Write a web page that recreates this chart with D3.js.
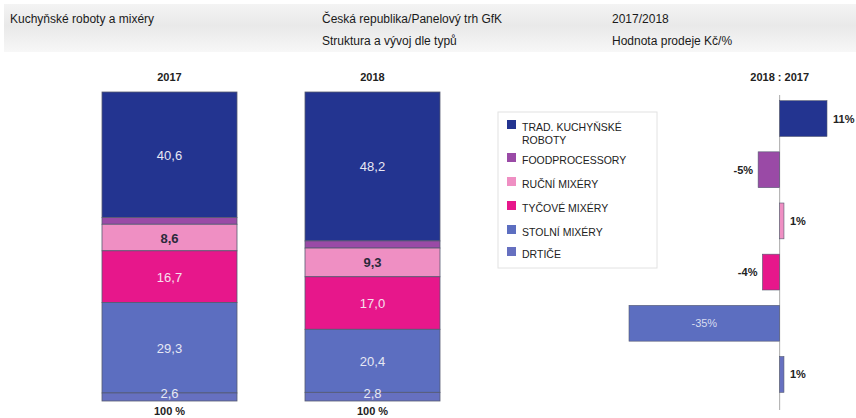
<!DOCTYPE html>
<html><head><meta charset="utf-8">
<script src="https://cdn.jsdelivr.net/npm/d3@7"></script>
<style>
body{margin:0;background:#fff;}
svg{font-family:"Liberation Sans",Arial,sans-serif;}
</style></head><body>
<svg id="c" width="856" height="418"></svg>
<script>
const categories = ["TRAD. KUCHYŇSKÉ ROBOTY","FOODPROCESSORY","RUČNÍ MIXÉRY","TYČOVÉ MIXÉRY","STOLNÍ MIXÉRY","DRTIČE"];
const legendLines = [["TRAD. KUCHYŇSKÉ","ROBOTY"],["FOODPROCESSORY"],["RUČNÍ MIXÉRY"],["TYČOVÉ MIXÉRY"],["STOLNÍ MIXÉRY"],["DRTIČE"]];
const years = ["2017","2018"];
const share2017 = [40.6, 2.2, 8.6, 16.7, 29.3, 2.6];
const share2018 = [48.2, 2.3, 9.3, 17.0, 20.4, 2.8];
const change = [11, -5, 1, -4, -35, 1];
const changeLabels = ["11%","-5%","1%","-4%","-35%","1%"];
const shareLabelIdx = [0,2,3,4,5];
const colors = ["#233490","#9a4aa6","#ef8fc3","#e7178b","#5c6ec0","#6670c0"];
const labelColors = ["#e8e8f4",null,"#2a2a3a","#f6e0ee","#e6e8f4","#e6e8f4"];

const svg = d3.select("#c");
// header band
const defs = svg.append("defs");
const g1 = defs.append("linearGradient").attr("id","hg").attr("x1",0).attr("y1",0).attr("x2",0).attr("y2",1);
g1.append("stop").attr("offset","0%").attr("stop-color","#f4f4f4");
g1.append("stop").attr("offset","45%").attr("stop-color","#e9e9e9");
g1.append("stop").attr("offset","100%").attr("stop-color","#f7f7f7");
svg.append("rect").attr("x",4).attr("y",4).attr("width",852).attr("height",48).attr("fill","url(#hg)");
const hdr = [
  [10,23,"Kuchyňské roboty a mixéry"],
  [322,23,"Česká republika/Panelový trh GfK"],
  [322,45,"Struktura a vývoj dle typů"],
  [612,23,"2017/2018"],
  [612,45,"Hodnota prodeje Kč/%"]
];
svg.selectAll("text.hdr").data(hdr).join("text").attr("class","hdr")
  .attr("x",d=>d[0]).attr("y",d=>d[1]).text(d=>d[2])
  .attr("font-size",12).attr("fill","#1a1a1a").attr("textLength",null);

// stacked bars
const x = d3.scaleOrdinal().domain(years).range([102,305]);
const barW = 135;
const y = d3.scaleLinear().domain([0,100]).range([92,401]);
const fmt = v => d3.format(".1f")(v).replace(".",",");
[share2017, share2018].forEach((vals,yi)=>{
  const yr = years[yi];
  const x0 = x(yr);
  let cum = 0;
  const segs = vals.map((v,i)=>{const s={i,v,a:cum,b:cum+v}; cum+=v; return s;});
  const g = svg.append("g");
  g.selectAll("rect").data(segs).join("rect")
    .attr("x",x0).attr("width",barW)
    .attr("y",d=>y(d.a)).attr("height",d=>y(d.b)-y(d.a))
    .attr("fill",d=>colors[d.i]).attr("stroke","#555a70").attr("stroke-width",0.8);
  g.selectAll("text.v").data(segs.filter(d=>shareLabelIdx.includes(d.i))).join("text").attr("class","v")
    .attr("x",x0+barW/2)
    .attr("y",d=> d.i===5 ? y(d.a)+ (y(d.b)-y(d.a))/2 + 1 : (y(d.a)+y(d.b))/2+5)
    .attr("text-anchor","middle").attr("font-size",d=>d.i===5?13:13)
    .attr("font-weight",d=>d.i===2?"bold":"normal")
    .attr("fill",d=>labelColors[d.i]).text(d=>fmt(d.v));
  svg.append("text").attr("x",x0+barW/2).attr("y",81).attr("text-anchor","middle")
    .attr("font-size",11).attr("font-weight","bold").attr("fill","#222").text(yr);
  svg.append("text").attr("x",x0+barW/2).attr("y",415).attr("text-anchor","middle")
    .attr("font-size",11).attr("font-weight","bold").attr("fill","#222").text("100 %");
});

// legend
const lg = svg.append("g");
lg.append("rect").attr("x",498).attr("y",112).attr("width",159).attr("height",156)
  .attr("fill","#fff").attr("stroke","#e2e2e2").attr("stroke-width",1);
const ly = [127,160,184,208,232,254];
legendLines.forEach((lines,i)=>{
  lg.append("rect").attr("x",507).attr("y",ly[i]-7).attr("width",9).attr("height",9).attr("fill",colors[i]);
  lines.forEach((t,j)=>{
    lg.append("text").attr("x",522).attr("y",ly[i]+4+j*13).attr("font-size",10.5).attr("fill","#222").text(t);
  });
});

// change bars
const xc = d3.scaleLinear().domain([-35,11]).range([629,827]);
const yc = d3.scaleBand().domain(categories).range([93,400]).paddingInner(0.3).paddingOuter(0.15);
svg.append("line").attr("x1",xc(0)).attr("x2",xc(0)).attr("y1",95).attr("y2",410).attr("stroke","#aaa").attr("stroke-width",1);
svg.append("text").attr("x",xc(0)).attr("y",81).attr("text-anchor","middle")
  .attr("font-size",11).attr("font-weight","bold").attr("fill","#222").text("2018 : 2017");
svg.selectAll("rect.c").data(change).join("rect").attr("class","c")
  .attr("x",d=>xc(Math.min(0,d))).attr("width",d=>Math.abs(xc(d)-xc(0)))
  .attr("y",(d,i)=>yc(categories[i])).attr("height",yc.bandwidth())
  .attr("fill",(d,i)=>colors[i]).attr("stroke","#555a70").attr("stroke-width",0.6);
svg.selectAll("text.c").data(change).join("text").attr("class","c")
  .attr("x",(d,i)=> d<-20 ? (xc(d)+xc(0))/2 : d<0 ? xc(d)-5 : xc(d)+6)
  .attr("y",(d,i)=>yc(categories[i])+yc.bandwidth()/2+4)
  .attr("text-anchor",d=> d<-20 ? "middle" : d<0 ? "end" : "start")
  .attr("font-size",11).attr("font-weight",d=>d<-20?"normal":"bold")
  .attr("fill",d=>d<-20?"#d8dcf0":"#222").text((d,i)=>changeLabels[i]);
</script></body></html>
